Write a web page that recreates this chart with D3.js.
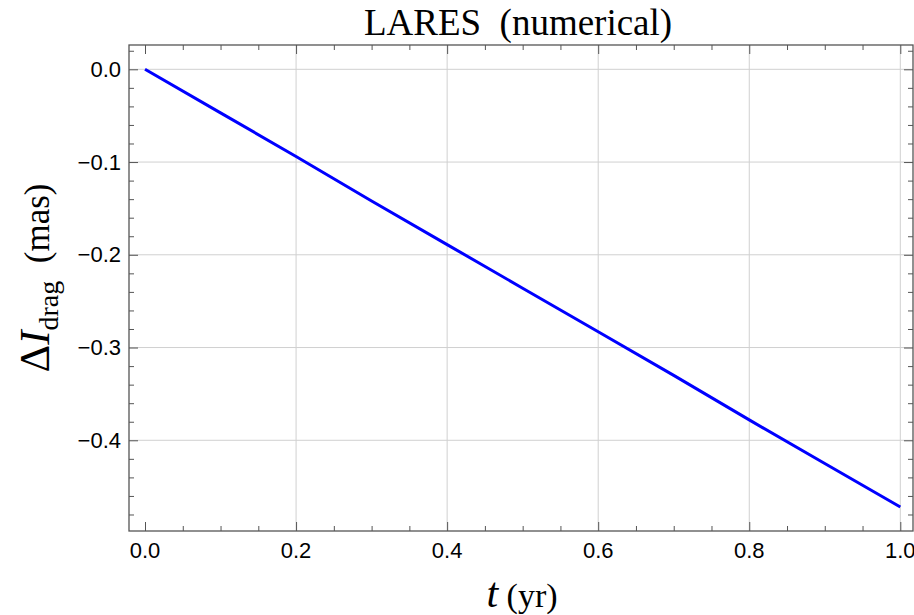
<!DOCTYPE html>
<html>
<head>
<meta charset="utf-8">
<script src="https://cdn.jsdelivr.net/npm/d3@7"></script>
<style>
  body { margin: 0; background: #fff; }
  svg { display: block; }
</style>
</head>
<body>
<script>
// data
const tValues = [0, 0.1, 0.2, 0.3, 0.4, 0.5, 0.6, 0.7, 0.8, 0.9, 1.0];
const dIValues = [0, -0.047, -0.094, -0.142, -0.189, -0.236, -0.283, -0.330, -0.378, -0.425, -0.472];
const xTicks = [0, 0.2, 0.4, 0.6, 0.8, 1.0];
const yTicks = [0, -0.1, -0.2, -0.3, -0.4];

const W = 914, H = 615;
const pLeft = 129, pRight = 913, pTop = 45, pBottom = 531;

const svg = d3.select('body').append('svg')
    .attr('width', W)
    .attr('height', H);

const x = d3.scaleLinear().domain([-0.0212, 1.0168]).range([pLeft, pRight]);
const y = d3.scaleLinear().domain([-0.4978, 0.0262]).range([pBottom, pTop]);

const fmt = d => d3.format('.1f')(d).replace('-', '\u2212');

// grid
svg.append('g').selectAll('line')
    .data(xTicks.filter(d => d > 0))
    .enter()
  .append('line')
    .attr('x1', d => x(d)).attr('x2', d => x(d))
    .attr('y1', pTop).attr('y2', pBottom)
    .attr('stroke', '#d0d0d0').attr('stroke-width', 1);

svg.append('g').selectAll('line')
    .data(yTicks)
    .enter()
  .append('line')
    .attr('x1', pLeft).attr('x2', pRight)
    .attr('y1', d => y(d)).attr('y2', d => y(d))
    .attr('stroke', '#d0d0d0').attr('stroke-width', 1);

// ticks on all four sides, pointing inward
const frameColor = '#555';
const xMinor = d3.range(0, 1.0001, 0.05);
const yMinor = d3.range(-0.48, 0.0201, 0.02);
const isMajor = (v, arr) => arr.some(a => Math.abs(a - v) < 1e-6);

function sideTicks(g, axis, size) {
  g.call(axis.tickSize(size).tickFormat(''));
  g.select('.domain').remove();
  g.selectAll('line').attr('stroke', frameColor).attr('stroke-width', 1);
}

svg.append('g').attr('transform', `translate(0,${pBottom})`)
    .call(g => sideTicks(g, d3.axisTop(x).tickValues(xTicks), 9));
svg.append('g').attr('transform', `translate(0,${pBottom})`)
    .call(g => sideTicks(g, d3.axisTop(x).tickValues(xMinor.filter(v => !isMajor(v, xTicks))), 5));
svg.append('g').attr('transform', `translate(0,${pTop})`)
    .call(g => sideTicks(g, d3.axisBottom(x).tickValues(xTicks), 9));
svg.append('g').attr('transform', `translate(0,${pTop})`)
    .call(g => sideTicks(g, d3.axisBottom(x).tickValues(xMinor.filter(v => !isMajor(v, xTicks))), 5));

svg.append('g').attr('transform', `translate(${pLeft},0)`)
    .call(g => sideTicks(g, d3.axisRight(y).tickValues(yTicks), 9));
svg.append('g').attr('transform', `translate(${pLeft},0)`)
    .call(g => sideTicks(g, d3.axisRight(y).tickValues(yMinor.filter(v => !isMajor(v, yTicks))), 5));
svg.append('g').attr('transform', `translate(${pRight},0)`)
    .call(g => sideTicks(g, d3.axisLeft(y).tickValues(yTicks), 9));
svg.append('g').attr('transform', `translate(${pRight},0)`)
    .call(g => sideTicks(g, d3.axisLeft(y).tickValues(yMinor.filter(v => !isMajor(v, yTicks))), 5));

// frame
svg.append('rect')
    .attr('x', pLeft).attr('y', pTop)
    .attr('width', pRight - pLeft).attr('height', pBottom - pTop)
    .attr('fill', 'none')
    .attr('stroke', frameColor)
    .attr('stroke-width', 1.3);

// tick labels
svg.append('g').selectAll('text')
    .data(xTicks)
    .enter()
  .append('text')
    .attr('x', d => x(d))
    .attr('y', pBottom + 27)
    .attr('text-anchor', 'middle')
    .attr('font-family', 'Liberation Sans, Arial, sans-serif')
    .attr('font-size', 22)
    .attr('fill', '#000')
    .text(fmt);

svg.append('g').selectAll('text')
    .data(yTicks)
    .enter()
  .append('text')
    .attr('x', pLeft - 8)
    .attr('y', d => y(d))
    .attr('dy', '0.35em')
    .attr('text-anchor', 'end')
    .attr('font-family', 'Liberation Sans, Arial, sans-serif')
    .attr('font-size', 22)
    .attr('fill', '#000')
    .text(fmt);

// the line
const line = d3.line()
    .x((d, i) => x(tValues[i]))
    .y(d => y(d));

svg.append('path')
    .datum(dIValues)
    .attr('d', line)
    .attr('fill', 'none')
    .attr('stroke', '#0000ff')
    .attr('stroke-width', 3);

// title
svg.append('text')
    .attr('x', 518)
    .attr('y', 35)
    .attr('text-anchor', 'middle')
    .attr('font-family', 'Liberation Serif, Times New Roman, serif')
    .attr('font-size', 37)
    .attr('fill', '#000')
    .attr('xml:space', 'preserve')
    .text('LARES  (numerical)');

// x label
const xl = svg.append('text')
    .attr('x', 522)
    .attr('y', 607)
    .attr('text-anchor', 'middle')
    .attr('font-family', 'Liberation Serif, Times New Roman, serif')
    .attr('fill', '#000');
xl.append('tspan').attr('font-style', 'italic').attr('font-size', 42).text('t');
xl.append('tspan').attr('font-size', 34).text(' (yr)');

// y label
const yl = svg.append('text')
    .attr('transform', `translate(49,278) rotate(-90)`)
    .attr('text-anchor', 'middle')
    .attr('font-family', 'Liberation Serif, Times New Roman, serif')
    .attr('fill', '#000');
yl.append('tspan').attr('font-size', 43).text('\u0394');
yl.append('tspan').attr('font-size', 43).attr('font-style', 'italic').text('I');
yl.append('tspan').attr('font-size', 28).attr('dy', 9).text('drag');
yl.append('tspan').attr('font-size', 35).attr('dy', -9).attr('xml:space', 'preserve').text('  (mas)');
</script>
</body>
</html>
